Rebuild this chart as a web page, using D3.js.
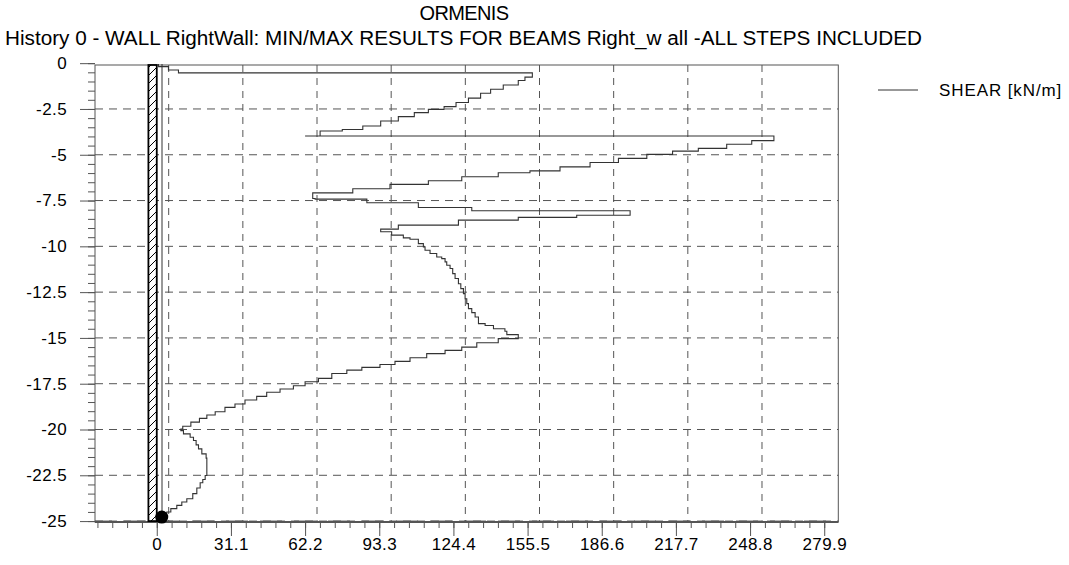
<!DOCTYPE html>
<html>
<head>
<meta charset="utf-8">
<script src="https://cdn.jsdelivr.net/npm/d3@7"></script>
<style>
  html, body { margin: 0; padding: 0; background: #fff; }
  svg { display: block; }
  text { font-family: "Liberation Sans", Arial, sans-serif; fill: #000; }
</style>
</head>
<body>
<svg id="chart" width="1069" height="565"></svg>
<script>
// ---------------- data ----------------
const chartTitle = "ORMENIS";
const chartSubtitle = "History 0 - WALL RightWall: MIN/MAX RESULTS FOR BEAMS Right_w all -ALL STEPS INCLUDED";
const legendLabel = "SHEAR [kN/m]";

const xTickValues = [0, 31.1, 62.2, 93.3, 124.4, 155.5, 186.6, 217.7, 248.8, 279.9];
const xTickLabels = ["0", "31.1", "62.2", "93.3", "124.4", "155.5", "186.6", "217.7", "248.8", "279.9"];
const yTickValues = [0, -2.5, -5, -7.5, -10, -12.5, -15, -17.5, -20, -22.5, -25];
const yTickLabels = ["0", "-2.5", "-5", "-7.5", "-10", "-12.5", "-15", "-17.5", "-20", "-22.5", "-25"];

// shear envelope: one value per depth interval [depthBreaks[i], depthBreaks[i+1]]
const depthBreaks = [
  0, -0.19, -0.37, -0.53, -0.76, -0.95, -1.19, -1.42, -1.64, -1.91,
  -2.15, -2.37, -2.52, -2.70, -2.92, -3.16, -3.43, -3.62, -3.70, -3.98,
  -3.98, -4.23, -4.43, -4.65, -4.80, -4.98, -5.20, -5.42, -5.66, -5.88,
  -5.98, -6.20, -6.42, -6.62, -6.86, -7.08, -7.39, -7.42, -7.62, -7.88,
  -8.06, -8.30, -8.42, -8.57, -8.84, -9.06, -9.20, -9.39, -9.54, -9.61,
  -9.85, -10.03, -10.21, -10.39, -10.58, -10.67, -10.85, -11.03, -11.21, -11.49,
  -11.76, -12.04, -12.31, -12.58, -12.86, -13.13, -13.40, -13.62, -13.86, -14.22,
  -14.32, -14.50, -14.64, -14.82, -15.04, -15.26, -15.50, -15.68, -15.86, -16.08,
  -16.28, -16.45, -16.61, -16.76, -16.94, -17.21, -17.39, -17.61, -17.79, -17.97,
  -18.19, -18.39, -18.61, -18.79, -19.03, -19.21, -19.39, -19.60, -19.82, -19.97,
  -20.06, -20.24, -20.42, -20.60, -20.84, -21.06, -21.33, -21.56, -22.51, -22.73,
  -22.91, -23.19, -23.50, -23.78, -23.96, -24.14, -24.32, -24.50, -24.59, -24.68
];
const shearValues = [
  0.7, 4.9, 9.1, 157.5, 154.4, 151.6, 145.3, 140.0, 135.8,
  130.7, 125.5, 120.5, 113.9, 108.0, 101.3, 93.9, 86.4, 77.8, 68.5,
  62.2, 258.8, 249.5, 239.0, 227.1, 216.3, 205.5, 193.6, 181.7, 169.1,
  156.5, 143.2, 127.9, 113.9, 97.8, 82.2, 65.4, 66.4, 88.1, 109.7,
  132.1, 198.5, 176.1, 151.6, 126.5, 101.3, 93.9, 98.5, 103.4, 106.2,
  109.7, 111.8, 112.5, 114.6, 117.4, 119.5, 120.9, 121.6, 123.0, 124.1,
  125.1, 126.5, 127.5, 128.6, 129.3, 130.0, 130.7, 132.1, 133.5, 134.9,
  137.7, 141.2, 146.0, 146.8, 151.6, 143.2, 134.2, 127.9, 120.9, 113.2,
  106.2, 99.9, 93.6, 86.0, 79.7, 73.4, 67.8, 62.2, 57.3, 51.7,
  46.1, 41.9, 37.0, 32.8, 28.6, 24.5, 21.0, 17.9, 14.3, 10.9,
  10.1, 11.2, 14.0, 15.4, 16.5, 17.5, 18.9, 20.7, 21.0, 20.3,
  19.3, 18.2, 16.8, 15.1, 12.6, 10.5, 8.4, 5.9, 4.2, 2.8
];

// near-zero envelope line along the wall
const minShearValues = [2.2, 2.2];
const minShearDepths = [0, -24.7];

// wall (x extent in kN/m units, depth extent in m) and bottom support point
const wallX = [-3.5, 0];
const wallDepth = [0, -25];
const supportPoint = [2.1, -24.78];

// ---------------- layout ----------------
const svg = d3.select("#chart");
const W = 1069, H = 565;
const plot = { left: 95, right: 838.3, top: 65, bottom: 522 };

const x = d3.scaleLinear().domain([-25.9, 285.8]).range([plot.left, plot.right]);
const y = d3.scaleLinear().domain([-0.1, -25.05]).range([plot.top, plot.bottom]);

svg.append("rect").attr("width", W).attr("height", H).attr("fill", "#fff");

// hatch pattern for wall
const defs = svg.append("defs");
const pat = defs.append("pattern")
  .attr("id", "hatch").attr("patternUnits", "userSpaceOnUse")
  .attr("width", 8).attr("height", 8);
pat.append("rect").attr("width", 8).attr("height", 8).attr("fill", "#fff");
pat.append("path").attr("d", "M-1,9 L9,-1 M-1,1 L1,-1 M7,9 L9,7")
  .attr("stroke", "#000").attr("stroke-width", 1);

const clip = defs.append("clipPath").attr("id", "plotclip");
clip.append("rect").attr("x", plot.left).attr("y", plot.top - 1)
  .attr("width", plot.right - plot.left).attr("height", plot.bottom - plot.top + 2);

// ---------------- grid ----------------
const gridColor = "#555";
const gridDash = "8,6";
const hGrid = svg.append("g");
yTickValues.filter(v => v < 0).forEach(v => {
  hGrid.append("line")
    .attr("x1", plot.left).attr("x2", plot.right)
    .attr("y1", y(v)).attr("y2", y(v))
    .attr("stroke", gridColor).attr("stroke-width", 1)
    .attr("stroke-dasharray", gridDash);
});
// extra long-dash overlay at the base line
hGrid.append("line")
  .attr("x1", plot.left).attr("x2", plot.right)
  .attr("y1", y(-25)).attr("y2", y(-25))
  .attr("stroke", gridColor).attr("stroke-width", 1)
  .attr("stroke-dasharray", "22,12").attr("stroke-dashoffset", 5);

const gridShift = 5; // vertical grid lines are drawn offset from labelled ticks
const vGrid = svg.append("g");
xTickValues.map(v => v + gridShift).filter(v => x(v) < plot.right - 4).forEach(v => {
  vGrid.append("line")
    .attr("x1", x(v)).attr("x2", x(v))
    .attr("y1", plot.top).attr("y2", plot.bottom)
    .attr("stroke", gridColor).attr("stroke-width", 1)
    .attr("stroke-dasharray", "7,6");
});

// ---------------- axes ----------------
const axisColor = "#555";
const xMinor = d3.range(-4, 47).map(k => +(k * 6.22).toFixed(2))
  .filter(v => x(v) >= plot.left && x(v) <= plot.right);
const yMinor = d3.range(0, 51).map(k => -k * 0.5);

const gxMinor = svg.append("g").attr("transform", `translate(0,${plot.bottom})`)
  .call(d3.axisBottom(x).tickValues(xMinor).tickSize(6).tickSizeOuter(0).tickFormat(""));
const gx = svg.append("g").attr("transform", `translate(0,${plot.bottom})`)
  .call(d3.axisBottom(x).tickValues(xTickValues).tickSize(14).tickSizeOuter(0).tickPadding(2)
    .tickFormat((d, i) => xTickLabels[i]));

const gyMinor = svg.append("g").attr("transform", `translate(${plot.left},0)`)
  .call(d3.axisLeft(y).tickValues(yMinor).tickSize(7).tickSizeOuter(0).tickFormat(""));
const gy = svg.append("g").attr("transform", `translate(${plot.left},0)`)
  .call(d3.axisLeft(y).tickValues(yTickValues).tickSize(15).tickSizeOuter(0).tickPadding(13)
    .tickFormat((d, i) => yTickLabels[i]));

[gx, gxMinor, gy, gyMinor].forEach(g => {
  g.select(".domain").remove();
  g.selectAll(".tick line").attr("stroke", axisColor).attr("stroke-width", 1);
  g.selectAll("text").attr("font-size", 17).attr("fill", "#000")
    .attr("font-family", '"Liberation Sans", Arial, sans-serif').attr("letter-spacing", 0.4);
});

// frame
svg.append("rect")
  .attr("x", plot.left).attr("y", plot.top)
  .attr("width", plot.right - plot.left).attr("height", plot.bottom - plot.top)
  .attr("fill", "none").attr("stroke", axisColor).attr("stroke-width", 1);
svg.append("line")
  .attr("x1", plot.left).attr("x2", plot.right)
  .attr("y1", plot.bottom).attr("y2", plot.bottom)
  .attr("stroke", axisColor).attr("stroke-width", 2);

// ---------------- marks ----------------
const marks = svg.append("g").attr("clip-path", "url(#plotclip)");

// wall
marks.append("rect")
  .attr("x", x(wallX[0])).attr("y", Math.max(plot.top, y(wallDepth[0])))
  .attr("width", x(wallX[1]) - x(wallX[0]))
  .attr("height", y(wallDepth[1]) - Math.max(plot.top, y(wallDepth[0])))
  .attr("fill", "url(#hatch)").attr("stroke", "#000").attr("stroke-width", 1.8);

// min envelope line
const minPts = minShearValues.map((v, i) => [v, minShearDepths[i]]);
const line = d3.line().x(d => x(d[0])).y(d => y(d[1]));
marks.append("path").attr("d", line(minPts))
  .attr("fill", "none").attr("stroke", "#333").attr("stroke-width", 1);

// stepped shear envelope
const stepPts = [];
shearValues.forEach((v, i) => {
  stepPts.push([v, depthBreaks[i]]);
  stepPts.push([v, depthBreaks[i + 1]]);
});
stepPts.push([supportPoint[0], depthBreaks[depthBreaks.length - 1]]);
marks.append("path").attr("d", line(stepPts))
  .attr("fill", "none").attr("stroke", "#333").attr("stroke-width", 1.1)
  .attr("stroke-linejoin", "miter");

// support point
svg.append("circle")
  .attr("cx", x(supportPoint[0])).attr("cy", y(supportPoint[1])).attr("r", 6.5)
  .attr("fill", "#000");

// ---------------- titles & legend ----------------
svg.append("text").attr("x", 464).attr("y", 19.5).attr("text-anchor", "middle")
  .attr("font-size", 20).attr("letter-spacing", -0.6).text(chartTitle);
svg.append("text").attr("x", 5).attr("y", 44.5)
  .attr("font-size", 20)
  .attr("textLength", 917).attr("lengthAdjust", "spacingAndGlyphs")
  .text(chartSubtitle);

svg.append("line").attr("x1", 878).attr("x2", 918).attr("y1", 90).attr("y2", 90)
  .attr("stroke", "#333").attr("stroke-width", 1);
svg.append("text").attr("x", 939).attr("y", 96)
  .attr("font-size", 17).attr("letter-spacing", 0.9).text(legendLabel);
</script>
</body>
</html>
